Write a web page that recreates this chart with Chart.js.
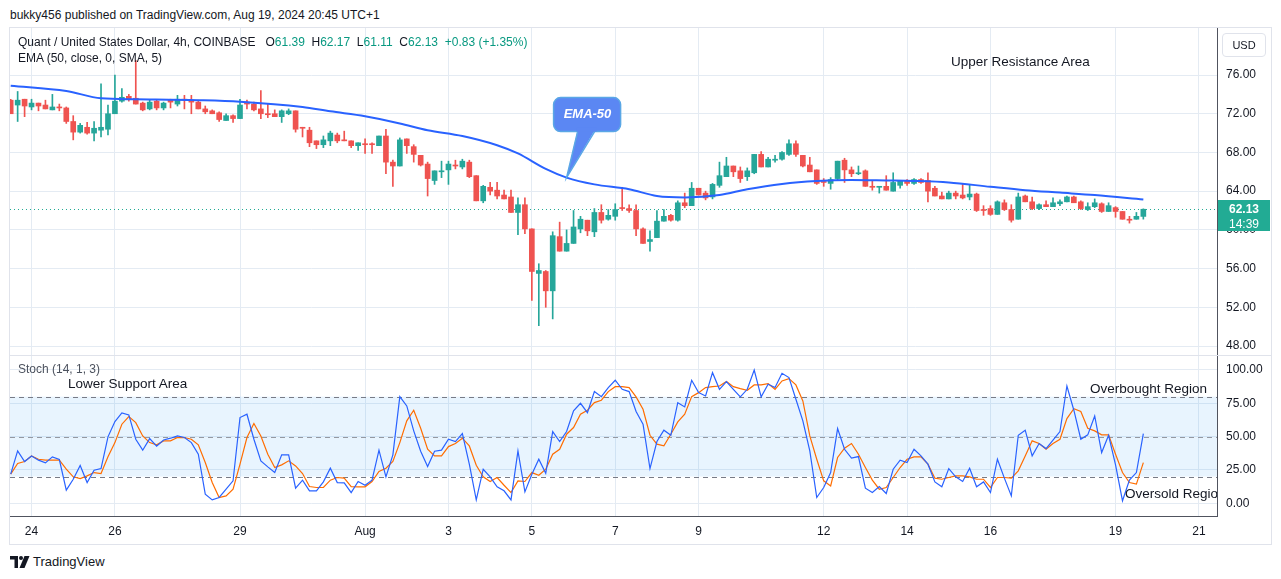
<!DOCTYPE html>
<html>
<head>
<meta charset="utf-8">
<script src="https://cdn.jsdelivr.net/npm/chart.js@4.4.1/dist/chart.umd.min.js"></script>
<style>
  body { margin: 0; background: #fff; font-family: "Liberation Sans", Arial, sans-serif; color: #131722; }
  #wrap { position: relative; width: 1281px; height: 579px; overflow: hidden; }
  .txt { position: absolute; white-space: nowrap; line-height: 14px; }
  canvas { position: absolute; }
  .up { color: #089981; }
</style>
</head>
<body>
<div id="wrap">
  <div class="txt" style="left:10px;top:8px;font-size:12px;">bukky456 published on TradingView.com, Aug 19, 2024 20:45 UTC+1</div>
  <div style="position:absolute;left:9px;top:27px;width:1261px;height:516px;border:1px solid #e0e3eb;"></div>

  <canvas id="priceChart" width="1261" height="327" style="left:10px;top:28px;"></canvas>
  <div style="position:absolute;left:10px;top:355px;width:1261px;height:1px;background:#e0e3eb;"></div>
  <canvas id="stochChart" width="1261" height="188" style="left:10px;top:356px;"></canvas>

  <div class="txt" style="left:18px;top:35px;font-size:12px;">Quant / United States Dollar, 4h, COINBASE&nbsp;&nbsp; O<span class="up">61.39</span>&nbsp; H<span class="up">62.17</span>&nbsp; L<span class="up">61.11</span>&nbsp; C<span class="up">62.13</span>&nbsp; <span class="up">+0.83 (+1.35%)</span></div>
  <div class="txt" style="left:18px;top:51px;font-size:12px;">EMA (50, close, 0, SMA, 5)</div>
  <div class="txt" style="left:1222px;top:33px;width:42px;height:22px;border:1px solid #e0e3eb;border-radius:4px;font-size:11px;line-height:22px;text-align:center;">USD</div>
  <div class="txt" style="left:951px;top:55px;font-size:13.5px;">Upper Resistance Area</div>
  <div class="txt" style="left:554px;top:107px;width:67px;text-align:center;font-size:13px;font-style:italic;font-weight:bold;color:#fff;">EMA-50</div>

  <div class="txt" style="left:18px;top:362px;font-size:12px;color:#4c525e;">Stoch (14, 1, 3)</div>
  <div class="txt" style="left:68px;top:377px;font-size:13.5px;">Lower Support Area</div>
  <div class="txt" style="left:1090px;top:382px;font-size:13.5px;">Overbought Region</div>
  <div class="txt" style="left:1125px;top:487px;width:92px;overflow:hidden;font-size:13.5px;">Oversold Region</div>

  <svg style="position:absolute;left:10px;top:556px;" width="20" height="12" viewBox="0 0 20 12">
    <path d="M0 0h8v12H4.5V3.5H0z" fill="#131722"/>
    <circle cx="11" cy="2" r="2" fill="#131722"/>
    <path d="M14.5 0h5l-5 12h-5z" fill="#131722"/>
  </svg>
  <div class="txt" style="left:33px;top:555px;font-size:13px;">TradingView</div>
</div>

<script>
const upColor = '#26a69a';
const downColor = '#ef5350';

// 4h candles, Jul 23 12:00 -> Aug 19 16:00
const opens = [73.4,72.9,73.5,72.7,73.1,72.9,72.4,72.7,72.6,71.2,70.1,70.6,70.0,70.3,70.4,72.0,73.3,73.8,73.6,73.1,
  72.5,73.3,72.6,73.4,73.0,73.5,73.4,73.2,72.5,72.3,72.1,71.3,71.8,71.5,73.2,73.0,72.5,72.0,72.0,71.7,
  72.0,72.3,70.6,70.3,69.2,68.8,69.2,69.8,69.3,69.2,68.7,68.9,68.9,68.7,69.7,67.0,66.6,69.4,68.6,67.7,
  66.8,65.1,66.0,66.2,66.7,66.5,67.0,65.6,63.0,64.4,64.1,63.6,63.4,61.8,62.6,60.1,55.5,55.7,53.7,59.3,
  57.8,58.6,60.1,61.0,59.8,61.8,61.1,61.4,62.3,62.2,62.0,60.1,58.8,59.2,60.9,61.5,61.0,62.8,62.5,64.3,
  63.8,63.4,64.6,65.5,66.6,66.1,65.5,65.9,67.8,66.5,67.2,67.3,67.8,68.9,67.7,66.7,66.2,65.0,64.8,65.3,
  67.2,66.2,65.8,66.1,64.5,64.4,64.5,64.0,64.6,65.1,64.8,65.2,65.1,64.3,63.5,63.2,63.8,63.6,63.4,63.7,
  62.1,62.2,61.6,62.8,62.1,61.1,63.5,62.9,62.2,62.6,62.4,62.7,62.9,63.4,62.9,62.1,62.4,62.7,61.9,62.3,
  61.9,61.1,61.1,61.39];
const highs = [73.5,74.3,73.5,73.5,73.1,73.4,74.0,73.0,72.7,71.8,71.0,71.1,71.2,75.1,72.9,76.0,74.6,74.0,77.5,73.2,
  73.4,73.4,73.2,73.5,73.9,73.9,73.9,73.4,72.8,72.4,72.2,72.0,71.9,73.5,73.4,73.2,74.4,73.0,72.4,72.4,
  72.5,72.3,70.6,70.6,69.2,69.7,70.2,70.0,70.2,69.2,69.0,69.4,69.0,69.7,70.4,67.2,69.5,69.4,68.8,67.7,
  67.0,66.1,67.1,67.1,67.2,67.3,67.2,65.6,64.6,64.9,64.9,64.1,64.1,63.3,63.3,60.1,56.5,55.8,59.8,60.8,
  60.0,62.0,61.4,61.0,62.2,62.6,62.1,62.7,64.4,62.6,62.6,60.2,59.9,62.0,62.1,61.6,63.0,63.8,64.9,64.3,
  64.0,64.8,67.0,67.5,66.6,66.5,66.4,67.8,68.1,67.5,67.7,68.1,69.3,69.2,67.7,67.5,66.2,65.3,65.4,67.1,
  67.4,66.5,66.6,66.2,65.1,64.5,65.6,65.9,65.1,65.2,65.3,65.3,65.9,64.5,63.9,64.0,64.0,64.8,64.7,63.8,
  62.5,62.5,63.0,63.1,62.6,63.8,63.6,63.4,62.7,63.0,63.3,63.1,63.5,63.5,63.0,62.8,63.2,62.8,62.8,62.4,
  61.9,61.4,61.8,62.17];
const lows = [72.0,71.2,71.7,72.4,72.3,72.5,72.4,72.3,71.0,69.3,70.0,69.9,69.2,69.6,69.8,72.0,73.2,73.3,73.0,72.3,
  72.4,72.4,72.4,72.6,72.8,72.5,72.0,72.5,72.0,72.0,71.2,71.3,71.1,71.5,72.5,72.3,71.5,71.6,71.7,71.1,
  71.9,70.1,69.6,68.6,68.4,68.5,68.7,69.0,69.2,68.5,68.2,67.9,67.9,68.7,65.8,64.5,66.6,67.9,67.0,66.6,
  63.5,64.7,65.4,64.7,66.3,66.3,65.4,63.0,62.8,63.6,63.2,63.2,61.8,59.5,59.6,52.7,50.1,52.0,50.8,57.8,
  57.8,58.6,59.7,59.4,59.3,60.7,61.0,61.0,62.0,61.8,59.4,58.6,57.8,59.2,60.9,60.9,60.9,62.3,62.5,63.6,
  63.1,63.2,64.4,65.5,65.5,64.9,65.1,65.8,66.5,66.5,67.0,67.2,67.7,67.6,66.5,66.0,64.7,64.5,64.2,65.1,
  64.9,65.5,65.7,64.5,64.1,63.8,64.1,64.0,64.3,64.6,64.7,64.8,62.9,63.5,63.2,63.2,63.2,63.2,63.1,61.9,
  61.5,61.5,61.6,62.0,60.8,61.1,62.9,62.1,62.1,62.4,62.4,62.5,62.9,62.8,62.1,62.0,62.3,61.8,61.9,61.3,
  61.1,60.7,61.1,61.11];
const closes = [72.0,73.4,72.8,73.1,72.8,72.5,72.7,72.6,71.2,70.1,70.8,70.0,70.5,70.6,72.0,73.3,73.7,73.5,73.0,72.4,
  73.2,72.6,73.1,73.2,73.5,73.4,73.2,72.5,72.2,72.0,71.4,71.8,71.5,72.9,73.0,72.4,72.0,71.9,71.7,72.3,
  72.3,70.4,70.5,69.0,68.8,69.3,70.0,69.2,69.2,68.7,69.0,68.8,68.8,69.7,67.0,66.6,69.3,68.7,67.8,66.7,
  65.3,66.1,66.1,66.8,66.6,67.1,65.5,63.0,64.5,64.0,63.5,63.2,61.8,62.6,60.1,55.7,55.8,53.7,59.4,57.8,
  58.6,60.3,61.1,59.9,61.8,61.0,61.5,62.1,62.2,62.0,60.1,58.6,59.0,60.9,61.4,61.0,62.8,62.5,64.3,63.6,
  63.3,64.7,65.6,66.6,66.0,65.3,66.1,67.8,66.5,67.3,67.3,68.0,68.9,67.8,66.6,66.0,64.8,64.9,65.2,67.1,
  66.2,65.8,65.9,64.5,64.4,64.5,64.1,64.9,65.1,64.8,65.2,64.9,64.0,63.5,63.2,63.8,63.5,63.3,63.7,62.0,
  62.0,61.6,62.9,62.1,61.0,63.4,62.9,62.2,62.6,62.4,62.8,62.9,63.4,62.8,62.2,62.4,62.8,61.9,62.5,61.9,
  61.1,61.0,61.4,62.13];

// EMA-50 read at sampled candles
const emaIdx = [0, 8, 13, 18, 27, 33, 42, 46, 51, 56, 60, 65, 70, 73, 77, 80, 84, 89, 93, 97, 102, 106, 111, 116, 121, 126, 130, 135, 141, 146, 151, 156, 163];
const emaVal = [74.9, 74.35, 73.6, 73.5, 73.4, 73.25, 72.7, 72.25, 71.75, 71.0, 70.3, 69.7, 68.75, 67.9, 66.3, 65.4, 64.7, 64.2, 63.5, 63.35, 63.6, 64.2, 64.75, 65.05, 65.15, 65.1, 65.05, 64.9, 64.45, 64.1, 63.85, 63.6, 63.15];

// Stoch %K and %D
const kVals = [21.8,39.3,31.3,35.5,32.3,30.3,34.8,32.8,9.8,18,28.3,15.5,24.8,26,49.8,61.3,67.8,66.3,48,39.8,
  48.5,42.8,47.5,48.8,50.5,49.3,45.5,36.8,6.8,2.5,4.3,10.5,16.8,64.3,66.8,48,31.8,27.3,23,36.3,
  36.3,11.3,17.3,9.3,9.3,16,26.3,15.5,15.3,8,16.3,13.5,17.3,39.8,19.8,36.3,80,73,54.3,39,
  27.5,39,39.8,48,46.3,52.3,29.3,2.5,25.5,19.8,12.3,9.3,2.5,39.3,8.5,21.8,33,22.5,53.8,46.3,
  53.8,69.3,75,68,83.8,80,86.8,92.3,85.5,83.8,68.8,59.3,26,46.3,54.8,51,75.5,72.3,92.3,83,
  80.5,98,85.5,91.3,85.5,79.8,85.5,100,79.8,89.3,86.8,97.5,94.3,78,61.8,39.3,4.3,11.8,23,56,
  40.5,33.8,35,11.3,8,12.5,7.3,25.5,32.3,30.5,40.5,35.5,29.3,16,12.3,26,19.8,16.3,26.3,12.3,
  16,8,33,18.8,5.5,51,54.8,35.5,44.8,41,47.3,53.8,88,69.8,48,51.3,65.5,38,51,28.8,
  1.8,17.3,23,52.3];
const dVals = [21.8,29.8,31.3,35.5,33,32.3,32.3,32.3,25.5,19.8,18.5,20.5,23,22.3,34.8,45.5,59.3,65,60.5,50.5,
  45.5,43.8,46.8,46.8,49.3,49.3,48,43.8,30.5,15.5,4.3,5.5,10.5,29.3,49.3,59.8,50.5,36.8,26.8,28.8,
  31.8,28,22.3,12.5,11.8,11.8,17.3,19.3,18.8,12.5,12.3,12.3,16.3,23.8,26.3,31.3,45.5,61.8,69.8,56.3,
  40.5,35.5,35.5,42.5,44.8,48.8,43,28.5,19.8,16.3,19.3,13.5,8,16.8,16.3,23,21,25.5,36.8,40.5,
  51.8,56.8,66.8,69.8,75.5,77.3,83.8,87.5,87.5,86.8,79.8,70.5,51,44.3,43,51.8,61,66.8,80,83,
  86.8,87.5,88,91.3,87.5,86,84.8,88.8,88.8,89.8,85.5,91.8,93.5,88.8,76.8,50.5,33,16.8,13,34.3,
  41.3,44.8,36.8,26.8,17.3,10.5,11.8,19.3,26.8,33,34.8,34.8,29.3,18.8,18,19.3,20.5,20.5,19.8,18,
  18,11.8,19.3,19.3,18.8,24.3,35.5,46.8,44.8,40.5,44.8,48,63.5,71,68.8,56.3,54.3,51.3,51.3,36.8,
  23,15.5,14.3,30.5];

// x axis: candle index of each day label
const dayIdx = [3, 15, 33, 51, 63, 75, 87, 99, 117, 129, 141, 159, 171];
const dayLabels = ['24', '26', '29', 'Aug', '3', '5', '7', '9', '12', '14', '16', '19', '21'];
const priceTicks = [48, 52, 56, 60, 64, 68, 72, 76];
const stochTicks = [0, 25, 50, 75, 100];
const stochLevels = [80, 50, 20];

const lastClose = closes[closes.length - 1];
const countdown = '14:39';
const calloutIdx = 80;
const calloutVal = 65.4;

const axisFont = { family: '"Liberation Sans", Arial, sans-serif', size: 12 };
const gridColor = '#e4ebf3';
const borderColor = '#50535e';

function fitRight(scale) {
    scale.width = 54;
    scale.paddingTop = 0;
    scale.paddingBottom = 0;
}
function xAxis(showLabels) {
    return {
        type: 'linear',
        min: -0.1,
        max: 173.6,
        offset: false,
        afterBuildTicks: (axis) => { axis.ticks = dayIdx.map(v => ({ value: v })); },
        afterFit: (scale) => {
            scale.height = showLabels ? 28 : 0;
            scale.paddingLeft = 0;
            scale.paddingRight = 0;
        },
        grid: { color: gridColor, drawTicks: false, offset: false },
        border: { display: showLabels, color: borderColor },
        ticks: {
            display: showLabels,
            maxRotation: 0,
            autoSkip: false,
            padding: 8,
            color: '#131722',
            font: axisFont,
            callback: (v) => dayLabels[dayIdx.indexOf(v)],
        },
    };
}

const candleColors = closes.map((c, i) => c >= opens[i] ? upColor : downColor);

const lastPricePlugin = {
    id: 'lastPrice',
    beforeDatasetsDraw(chart) {
        const { ctx, chartArea, scales } = chart;
        const y = Math.round(scales.y.getPixelForValue(lastClose)) + 0.5;
        ctx.save();
        ctx.strokeStyle = '#22ab94';
        ctx.lineWidth = 1;
        ctx.setLineDash([1, 3]);
        ctx.beginPath();
        ctx.moveTo(chartArea.left, y);
        ctx.lineTo(chartArea.right, y);
        ctx.stroke();
        ctx.restore();
    },
    afterDraw(chart) {
        const { ctx, chartArea, scales, width } = chart;
        const y = scales.y.getPixelForValue(lastClose);
        const x0 = chartArea.right + 1;
        ctx.save();
        ctx.fillStyle = '#22ab94';
        ctx.fillRect(x0, Math.round(y) - 9, width - x0 - 1, 31);
        ctx.fillStyle = '#fff';
        ctx.textAlign = 'center';
        ctx.textBaseline = 'middle';
        ctx.font = 'bold 12px "Liberation Sans", Arial';
        ctx.fillText(lastClose.toFixed(2), x0 + 26, y + 0.5);
        ctx.font = '12px "Liberation Sans", Arial';
        ctx.fillText(countdown, x0 + 26, y + 15);
        ctx.restore();
    },
};

const calloutPlugin = {
    id: 'callout',
    afterDatasetsDraw(chart) {
        const { ctx, scales } = chart;
        const tx = scales.x.getPixelForValue(calloutIdx);
        const ty = scales.y.getPixelForValue(calloutVal);
        const bx = tx - 13, by = ty - 80, bw = 67, bh = 34;
        ctx.save();
        ctx.fillStyle = '#5b87f3';
        ctx.strokeStyle = '#5aa7e6';
        ctx.lineWidth = 1.5;
        ctx.beginPath();
        ctx.roundRect(bx, by, bw, bh, 7);
        ctx.fill();
        ctx.stroke();
        ctx.beginPath();
        ctx.moveTo(tx + 11, by + bh - 1);
        ctx.lineTo(tx, ty);
        ctx.lineTo(tx + 28, by + bh - 1);
        ctx.closePath();
        ctx.fill();
        ctx.beginPath();
        ctx.moveTo(tx + 11, by + bh);
        ctx.lineTo(tx, ty);
        ctx.lineTo(tx + 28, by + bh);
        ctx.stroke();
        ctx.fillRect(tx + 10, by + bh - 4, 20, 4);
        ctx.restore();
    },
};

const bandPlugin = {
    id: 'band',
    beforeDatasetsDraw(chart) {
        const { ctx, chartArea, scales } = chart;
        const yTop = scales.y.getPixelForValue(stochLevels[0]);
        const yBot = scales.y.getPixelForValue(stochLevels[2]);
        ctx.save();
        ctx.fillStyle = 'rgba(33, 150, 243, 0.1)';
        ctx.fillRect(chartArea.left, yTop, chartArea.right - chartArea.left, yBot - yTop);
        ctx.setLineDash([5, 4]);
        ctx.lineWidth = 1;
        stochLevels.forEach((lv, i) => {
            const y = Math.round(scales.y.getPixelForValue(lv)) + 0.5;
            ctx.strokeStyle = i === 1 ? '#9598a1' : '#787b86';
            ctx.beginPath();
            ctx.moveTo(chartArea.left, y);
            ctx.lineTo(chartArea.right, y);
            ctx.stroke();
        });
        ctx.restore();
    },
};

new Chart(document.getElementById('priceChart'), {
    data: {
        datasets: [
            {
                type: 'line',
                label: 'EMA 50',
                data: emaIdx.map((x, i) => ({ x: x, y: emaVal[i] })),
                borderColor: '#2962ff',
                borderWidth: 2,
                pointRadius: 0,
                cubicInterpolationMode: 'monotone',
                order: 0,
            },
            {
                type: 'bar',
                label: 'body',
                data: opens.map((o, i) => ({ x: i, y: [o, closes[i]] })),
                backgroundColor: candleColors,
                barThickness: 5,
                minBarLength: 1,
                grouped: false,
                order: 1,
            },
            {
                type: 'bar',
                label: 'wick',
                data: lows.map((l, i) => ({ x: i, y: [l, highs[i]] })),
                backgroundColor: candleColors,
                barThickness: 1,
                grouped: false,
                order: 2,
            },
        ],
    },
    options: {
        responsive: false,
        animation: false,
        layout: { padding: 0 },
        plugins: { legend: { display: false }, tooltip: { enabled: false } },
        scales: {
            x: xAxis(false),
            y: {
                position: 'right',
                min: 47.07,
                max: 80.86,
                afterBuildTicks: (axis) => { axis.ticks = priceTicks.map(v => ({ value: v })); },
                afterFit: fitRight,
                grid: { color: gridColor, drawTicks: false },
                border: { color: borderColor },
                ticks: {
                    padding: 9,
                    color: '#131722',
                    font: axisFont,
                    callback: (v) => v.toFixed(2),
                },
            },
        },
    },
    plugins: [lastPricePlugin, calloutPlugin],
});

new Chart(document.getElementById('stochChart'), {
    type: 'line',
    data: {
        datasets: [
            {
                label: '%K',
                data: kVals.map((v, i) => ({ x: i, y: v })),
                borderColor: '#2962ff',
                borderWidth: 1.2,
                pointRadius: 0,
            },
            {
                label: '%D',
                data: dVals.map((v, i) => ({ x: i, y: v })),
                borderColor: '#ff6d00',
                borderWidth: 1.2,
                pointRadius: 0,
            },
        ],
    },
    options: {
        responsive: false,
        animation: false,
        layout: { padding: 0 },
        plugins: { legend: { display: false }, tooltip: { enabled: false } },
        scales: {
            x: xAxis(true),
            y: {
                position: 'right',
                min: -9.6,
                max: 110.5,
                afterBuildTicks: (axis) => { axis.ticks = stochTicks.map(v => ({ value: v })); },
                afterFit: fitRight,
                grid: { color: gridColor, drawTicks: false },
                border: { color: borderColor },
                ticks: {
                    padding: 9,
                    color: '#131722',
                    font: axisFont,
                    callback: (v) => v.toFixed(2),
                },
            },
        },
    },
    plugins: [bandPlugin],
});
</script>
</body>
</html>
